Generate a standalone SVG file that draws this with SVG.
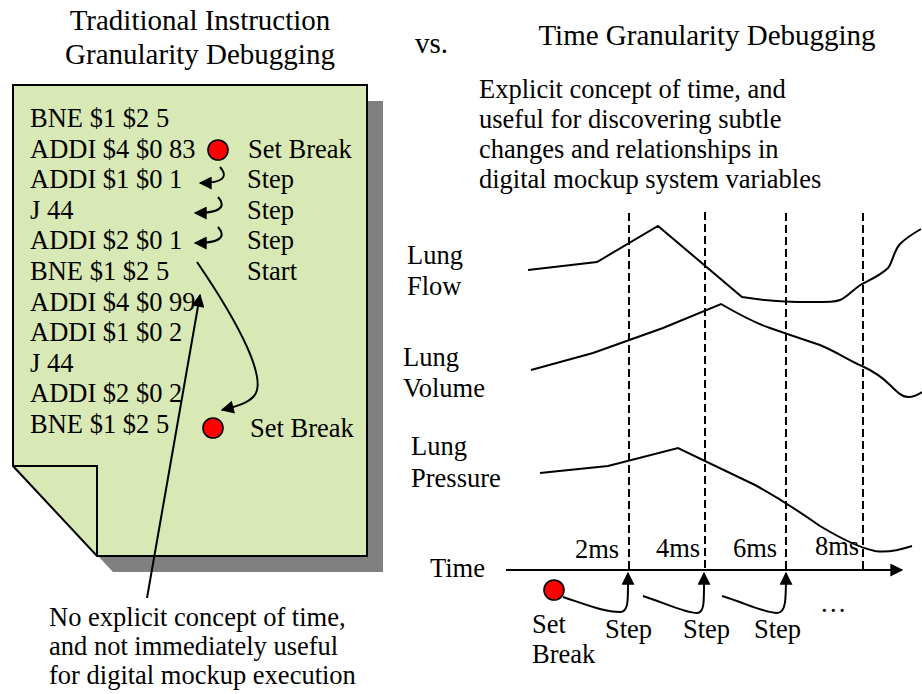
<svg xmlns="http://www.w3.org/2000/svg" width="922" height="694" viewBox="0 0 922 694" font-family="'Liberation Serif', serif">
<defs>
<style>
text{font-family:"Liberation Serif",serif;fill:#000}
.t{font-size:29px}
.b{font-size:26.5px}
.ln{fill:none;stroke:#000;stroke-width:2}
.dash{fill:none;stroke:#000;stroke-width:2;stroke-dasharray:8 4}
.dot{fill:#ff0000;stroke:#000;stroke-width:1.6}
</style>
<marker id="ah" viewBox="0 0 10 10" refX="9" refY="5" markerUnits="userSpaceOnUse" markerWidth="15" markerHeight="13" orient="auto">
<path d="M0,0 L10,5 L0,10 z" fill="#000"/>
</marker>
</defs>
<rect width="922" height="694" fill="#fff"/>

<g id="titles">
<text class="t" x="200" y="30" text-anchor="middle">Traditional Instruction</text>
<text class="t" x="200" y="64" text-anchor="middle">Granularity Debugging</text>
<text class="t" x="415" y="53">vs.</text>
<text class="t" x="707" y="45" text-anchor="middle">Time Granularity Debugging</text>
</g>

<g id="sheet">
<path d="M29,101 L383,101 L383,572 L113,572 L29,482 Z" fill="#808080"/>
<path d="M13,85 L367,85 L367,556 L97,556 L13,466 Z" fill="#d9e9b5" stroke="#000" stroke-width="2"/>
<path d="M13,466 L97,466 L97,556" fill="none" stroke="#000" stroke-width="2"/>
<text class="b" x="30" y="127">BNE $1 $2 5</text>
<text class="b" x="30" y="158">ADDI $4 $0 83</text>
<text class="b" x="30" y="188">ADDI $1 $0 1</text>
<text class="b" x="30" y="219">J 44</text>
<text class="b" x="30" y="249">ADDI $2 $0 1</text>
<text class="b" x="30" y="280">BNE $1 $2 5</text>
<text class="b" x="30" y="311">ADDI $4 $0 99</text>
<text class="b" x="30" y="341">ADDI $1 $0 2</text>
<text class="b" x="30" y="372">J 44</text>
<text class="b" x="30" y="402">ADDI $2 $0 2</text>
<text class="b" x="30" y="433">BNE $1 $2 5</text>
</g>

<g id="break1">
<circle class="dot" cx="218" cy="150" r="10"/>
<text class="b" x="248" y="158">Set Break</text>
</g>
<g id="step-labels">
<text class="b" x="247" y="188">Step</text>
<text class="b" x="247" y="219">Step</text>
<text class="b" x="247" y="249">Step</text>
<text class="b" x="247" y="280">Start</text>
</g>
<g id="break2">
<circle class="dot" cx="213" cy="428" r="10"/>
<text class="b" x="250" y="437">Set Break</text>
</g>

<g id="note-left">
<text class="b" x="49" y="626">No explicit concept of time,</text>
<text class="b" x="49" y="655">and not immediately useful</text>
<text class="b" x="49" y="684">for digital mockup execution</text>
</g>

<g id="note-right">
<text class="b" x="479" y="98">Explicit concept of time, and</text>
<text class="b" x="479" y="128">useful for discovering subtle</text>
<text class="b" x="479" y="158">changes and relationships in</text>
<text class="b" x="479" y="188">digital mockup system variables</text>
</g>

<g id="signal-labels">
<text class="b" x="407" y="264">Lung</text>
<text class="b" x="407" y="295">Flow</text>
<text class="b" x="403" y="366">Lung</text>
<text class="b" x="403" y="397">Volume</text>
<text class="b" x="411" y="455">Lung</text>
<text class="b" x="411" y="487">Pressure</text>
</g>

<g id="signals">
<path class="ln" d="M528,270 L597,262 L658,226 L742,297 C760,300 790,302 810,302 C830,302 835,302 840,300 C848,297 852,290 862,284 C872,279 881,275 888,268 C893,262 893,252 900,244 C906,238 914,233 921,229"/>
<path class="ln" d="M531,370 L593,353 L663,328 L721,304 C740,315 755,323 770,328 C790,335 805,340 820,345 C835,351 848,360 862,366 C875,372 883,378 890,385 C897,392 902,397 908,397 C913,397 918,395 922,392"/>
<path class="ln" d="M540,473 L608,466 L678,448 L755,485 C775,496 800,512 820,526 C840,538 860,548 875,551 C888,553 900,550 912,546"/>
</g>

<g id="time-axis">
<text class="b" x="430" y="577">Time</text>
<text class="b" x="575" y="558">2ms</text>
<text class="b" x="656" y="557">4ms</text>
<text class="b" x="733" y="557">6ms</text>
<text class="b" x="815" y="555">8ms</text>
<circle class="dot" cx="554" cy="590" r="10"/>
<text class="b" x="532" y="633">Set</text>
<text class="b" x="532" y="663">Break</text>
<text class="b" x="605" y="638">Step</text>
<text class="b" x="683" y="638">Step</text>
<text class="b" x="754" y="638">Step</text>
<text class="b" x="820" y="612">…</text>
</g>

<g id="connectors">
<path class="dash" d="M629,213 L629,570"/>
<path class="dash" d="M705,212 L705,570"/>
<path class="dash" d="M786,213 L786,570"/>
<path class="dash" d="M863,213 L863,570"/>
<path class="ln" d="M506,570 L902,570" marker-end="url(#ah)"/>
<path class="ln" d="M220,167 C228,176 225,183 200,183" marker-end="url(#ah)"/>
<path class="ln" d="M218,197 C226,206 222,213 195,213" marker-end="url(#ah)"/>
<path class="ln" d="M218,227 C226,236 222,243 195,243" marker-end="url(#ah)"/>
<path class="ln" d="M197,262 C240,325 268,380 254,396 C248,403 238,406 222,410" marker-end="url(#ah)"/>
<path class="ln" d="M147,598 L200,295" marker-end="url(#ah)"/>
<path class="ln" d="M563,597 C590,606 605,612 620,612 C629,612 628,600 628,573" marker-end="url(#ah)"/>
<path class="ln" d="M643,596 C665,603 685,613 697,613 C705,613 704,600 704,573" marker-end="url(#ah)"/>
<path class="ln" d="M722,596 C745,603 765,613 777,613 C786,613 786,600 786,573" marker-end="url(#ah)"/>
</g>
</svg>
